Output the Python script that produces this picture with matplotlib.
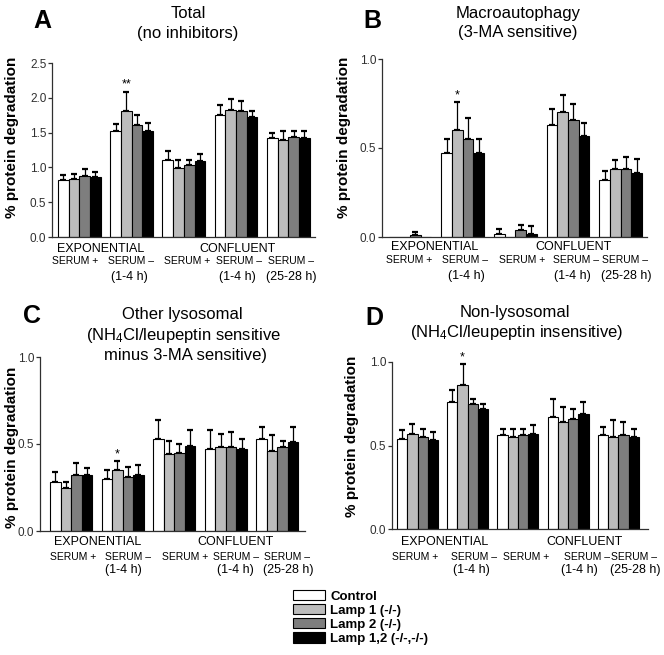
import numpy as np
import matplotlib
matplotlib.use("Agg")
import matplotlib.pyplot as plt

plt.rcParams['font.family'] = ['Liberation Sans', 'DejaVu Sans']
plt.rcParams['mathtext.fontset'] = 'custom'
plt.rcParams['mathtext.rm'] = 'Liberation Sans'
plt.rcParams['mathtext.it'] = 'Liberation Sans:italic'
plt.rcParams['mathtext.bf'] = 'Liberation Sans:bold'

# ---------------- data ----------------
series = ["Control", "Lamp 1 (-/-)", "Lamp 2 (-/-)", "Lamp 1,2 (-/-,-/-)"]
colors = ["white", "#bcbcbc", "#7e7e7e", "black"]

condition_labels = ["EXPONENTIAL", "CONFLUENT"]
serum_labels = ["SERUM +", "SERUM \u2013", "SERUM +", "SERUM \u2013", "SERUM \u2013"]
time_labels = ["", "(1-4 h)", "", "(1-4 h)", "(25-28 h)"]

# A: Total (no inhibitors)
total_mean = [
    [0.82, 1.53, 1.11, 1.76, 1.42],
    [0.83, 1.81, 0.99, 1.83, 1.40],
    [0.88, 1.61, 1.03, 1.81, 1.43],
    [0.86, 1.52, 1.09, 1.72, 1.42],
]
total_err = [
    [0.07, 0.09, 0.12, 0.13, 0.08],
    [0.07, 0.28, 0.11, 0.15, 0.13],
    [0.10, 0.15, 0.07, 0.15, 0.09],
    [0.08, 0.12, 0.10, 0.09, 0.11],
]
# B: Macroautophagy
macro_mean = [
    [0.0, 0.47, 0.017, 0.63, 0.32],
    [0.0, 0.60, 0.0, 0.70, 0.38],
    [0.01, 0.55, 0.038, 0.66, 0.38],
    [0.0, 0.47, 0.019, 0.57, 0.36],
]
macro_err = [
    [0.0, 0.08, 0.03, 0.09, 0.05],
    [0.0, 0.16, 0.0, 0.10, 0.05],
    [0.017, 0.12, 0.028, 0.09, 0.07],
    [0.0, 0.08, 0.04, 0.07, 0.08],
]
# C: Other lysosomal
other_mean = [
    [0.28, 0.30, 0.53, 0.47, 0.53],
    [0.25, 0.35, 0.44, 0.48, 0.46],
    [0.32, 0.31, 0.45, 0.48, 0.48],
    [0.32, 0.32, 0.49, 0.47, 0.51],
]
other_err = [
    [0.06, 0.05, 0.11, 0.11, 0.07],
    [0.03, 0.05, 0.08, 0.08, 0.09],
    [0.07, 0.06, 0.05, 0.09, 0.04],
    [0.04, 0.06, 0.09, 0.06, 0.09],
]
# D: Non-lysosomal
nonlys_mean = [
    [0.54, 0.76, 0.56, 0.67, 0.56],
    [0.57, 0.86, 0.55, 0.64, 0.55],
    [0.55, 0.75, 0.56, 0.66, 0.56],
    [0.53, 0.72, 0.57, 0.69, 0.55],
]
nonlys_err = [
    [0.05, 0.07, 0.04, 0.11, 0.05],
    [0.06, 0.13, 0.05, 0.09, 0.10],
    [0.05, 0.03, 0.04, 0.06, 0.08],
    [0.05, 0.03, 0.05, 0.07, 0.05],
]
# significance marks: (series index, group index, text)
total_sig = (1, 1, "**")
macro_sig = (1, 1, "*")
other_sig = (1, 1, "*")
nonlys_sig = (1, 1, "*")

# ---------------- layout ----------------
W, H = 664, 655
fig = plt.figure(figsize=(W / 100, H / 100), dpi=100)


def fx(x):
    return x / W


def fy(y):
    return 1 - y / H


panels = [
    dict(letter="A", mean=total_mean, err=total_err, sig=total_sig,
         rect=(52, 63, 315, 237), ymax=2.5, yticks=[0.0, 0.5, 1.0, 1.5, 2.0, 2.5],
         off=6, sp=52.2, bw=10.7,
         letter_pos=(42, 28),
         titles=[("Total", 188, 18.5), ("(no inhibitors)", 188, 38)],
         ylabel_pos=(12, 137),
         cond_x=[100.5, 237.7], serum_x=[75, 131, 187.5, 239, 290.8],
         time_x=[0, 129, 0, 237.7, 291.7], rows=(251.5, 263.7, 280)),
    dict(letter="B", mean=macro_mean, err=macro_err, sig=macro_sig,
         rect=(382, 59, 647, 237), ymax=1.0, yticks=[0.0, 0.5, 1.0],
         off=6.5, sp=52.7, bw=10.7,
         letter_pos=(372, 28),
         titles=[("Macroautophagy", 518, 18), ("(3-MA sensitive)", 518, 37)],
         ylabel_pos=(344, 137),
         cond_x=[435, 573], serum_x=[409, 465, 521.7, 576, 624.5],
         time_x=[0, 466.7, 0, 572.5, 626], rows=(250, 263, 279)),
    dict(letter="C", mean=other_mean, err=other_err, sig=other_sig,
         rect=(40, 357, 305, 531), ymax=1.0, yticks=[0.0, 0.5, 1.0],
         off=10, sp=51.6, bw=10.5,
         letter_pos=(32.5, 323),
         titles=[("Other lysosomal", 182, 318.5),
                 (r"(NH$_4$Cl/leupeptin sensitive", 183.3, 339.5),
                 ("minus 3-MA sensitive)", 185, 360)],
         ylabel_pos=(12, 447),
         cond_x=[98, 236], serum_x=[73, 128, 185, 236, 287],
         time_x=[0, 123, 0, 235, 288], rows=(545, 560, 573)),
    dict(letter="D", mean=nonlys_mean, err=nonlys_err, sig=nonlys_sig,
         rect=(392, 362, 648, 529), ymax=1.0, yticks=[0.0, 0.5, 1.0],
         off=5, sp=50.2, bw=10.25,
         letter_pos=(374.5, 325),
         titles=[("Non-lysosomal", 514.5, 317.5),
                 (r"(NH$_4$Cl/leupeptin insensitive)", 517, 337.5)],
         ylabel_pos=(352, 436),
         cond_x=[444.5, 584.7], serum_x=[415, 474, 526.5, 587, 634],
         time_x=[0, 471.5, 0, 579, 635], rows=(545, 559.7, 573)),
]

spine_color = "#303030"
legend_handles = None

for p in panels:
    l, t, r, b = p["rect"]
    ax = fig.add_axes([fx(l), fy(b), (r - l) / W, (b - t) / H])
    sp, bw, off = p["sp"], p["bw"], p["off"]
    w = bw / sp
    x0 = -(off + 2 * bw) / sp
    ax.set_xlim(x0, x0 + (r - l) / sp)
    ax.set_ylim(0, p["ymax"])
    groups = np.arange(5)
    handles = []
    for j in range(4):
        xs = groups + (j - 1.5) * w
        means = np.array(p["mean"][j])
        errs = np.array(p["err"][j])
        bars = ax.bar(xs, means, width=w, color=colors[j], edgecolor="black",
                      linewidth=0.8, label=series[j], zorder=2)
        handles.append(bars)
        mask = errs > 0
        ax.errorbar(xs[mask], means[mask],
                    yerr=[np.zeros(mask.sum()), errs[mask]],
                    fmt="none", ecolor="black", elinewidth=0.9,
                    capsize=1.9, capthick=1.6, zorder=1)
    if legend_handles is None:
        legend_handles = handles
    sj, sg, stext = p["sig"]
    sx = sg + (sj - 1.5) * w
    sy = p["mean"][sj][sg] + p["err"][sj][sg]
    ax.annotate(stext, xy=(sx, sy), xytext=(0, 0.5), textcoords="offset points",
                ha="center", va="bottom", fontsize=9)

    for s in ["top", "right"]:
        ax.spines[s].set_visible(False)
    for s in ["left", "bottom"]:
        ax.spines[s].set_color(spine_color)
        ax.spines[s].set_linewidth(0.9)
    ax.spines["left"].set_bounds(0, p["ymax"])
    ax.set_xticks([])
    ax.set_yticks(p["yticks"])
    ax.set_yticklabels([f"{v:.1f}" for v in p["yticks"]])
    ax.tick_params(axis="y", length=3, width=0.9, pad=1, labelsize=8.5,
                   color=spine_color, labelcolor="#303030")
    ax.patch.set_visible(False)

    # texts
    lx, ly = p["letter_pos"]
    fig.text(fx(lx), fy(ly), p["letter"], ha="center", va="baseline",
             fontsize=18, fontweight="bold")
    for txt, tx, ty in p["titles"]:
        fig.text(fx(tx), fy(ty), txt, ha="center", va="baseline", fontsize=12)
    yx, yy = p["ylabel_pos"]
    fig.text(fx(yx), fy(yy), "% protein degradation", rotation=90,
             ha="center", va="center", fontsize=11, fontweight="bold")
    r1, r2, r3 = p["rows"]
    for txt, cx in zip(condition_labels, p["cond_x"]):
        fig.text(fx(cx), fy(r1), txt, ha="center", va="baseline", fontsize=9)
    for txt, cx in zip(serum_labels, p["serum_x"]):
        fig.text(fx(cx), fy(r2), txt, ha="center", va="baseline", fontsize=7.5)
    for txt, cx in zip(time_labels, p["time_x"]):
        if txt:
            fig.text(fx(cx), fy(r3), txt, ha="center", va="baseline", fontsize=9)

fig.legend(legend_handles, series, loc="upper left",
           bbox_to_anchor=(fx(293), fy(590)), frameon=False,
           prop=dict(weight="bold", size=9.5), handlelength=2.42,
           handleheight=0.83, handletextpad=0.4, labelspacing=0.1,
           borderpad=0, borderaxespad=0)

fig.savefig("out.png", dpi=100)
